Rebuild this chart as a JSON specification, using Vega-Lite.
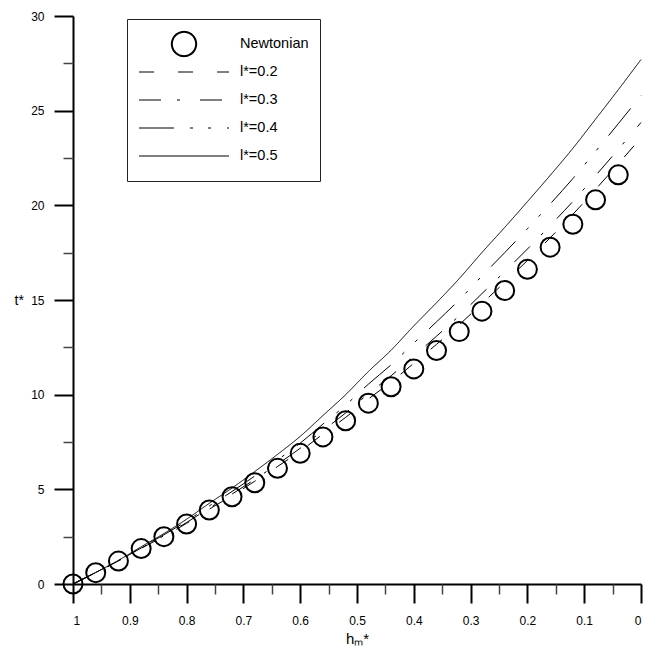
{
  "$schema": "https://vega.github.io/schema/vega-lite/v6.json",
  "width": 568,
  "height": 568,
  "autosize": {"type": "none"},
  "padding": {"left": 73, "top": 16, "right": 20, "bottom": 71},
  "config": {
    "view": {"stroke": null},
    "font": "Liberation Sans",
    "axis": {
      "grid": false,
      "labelFont": "Liberation Sans",
      "labelFontSize": 12,
      "labelColor": "black",
      "tickColor": "black",
      "domainColor": "black",
      "domainWidth": 2,
      "tickWidth": 2,
      "titleFont": "Liberation Sans",
      "titleFontWeight": "normal",
      "titleColor": "black"
    }
  },
  "datasets": {
    "lines": [
      {"s": "l*=0.5", "h": 1, "t": 0}, {"s": "l*=0.5", "h": 0.96, "t": 0.612}, {"s": "l*=0.5", "h": 0.92, "t": 1.252}, {"s": "l*=0.5", "h": 0.88, "t": 1.964}, {"s": "l*=0.5", "h": 0.84, "t": 2.663}, {"s": "l*=0.5", "h": 0.8, "t": 3.424}, {"s": "l*=0.5", "h": 0.76, "t": 4.262}, {"s": "l*=0.5", "h": 0.72, "t": 5.071}, {"s": "l*=0.5", "h": 0.68, "t": 5.939}, {"s": "l*=0.5", "h": 0.64, "t": 6.843}, {"s": "l*=0.5", "h": 0.6, "t": 7.797}, {"s": "l*=0.5", "h": 0.56, "t": 8.897}, {"s": "l*=0.5", "h": 0.52, "t": 9.999}, {"s": "l*=0.5", "h": 0.48, "t": 11.221}, {"s": "l*=0.5", "h": 0.44, "t": 12.348}, {"s": "l*=0.5", "h": 0.4, "t": 13.632}, {"s": "l*=0.5", "h": 0.36, "t": 14.858}, {"s": "l*=0.5", "h": 0.32, "t": 16.129}, {"s": "l*=0.5", "h": 0.28, "t": 17.508}, {"s": "l*=0.5", "h": 0.24, "t": 18.833}, {"s": "l*=0.5", "h": 0.2, "t": 20.193}, {"s": "l*=0.5", "h": 0.16, "t": 21.579}, {"s": "l*=0.5", "h": 0.12, "t": 23.009}, {"s": "l*=0.5", "h": 0.08, "t": 24.551}, {"s": "l*=0.5", "h": 0.04, "t": 26.105}, {"s": "l*=0.5", "h": 0, "t": 27.7},
      {"s": "l*=0.4", "h": 1, "t": 0}, {"s": "l*=0.4", "h": 0.96, "t": 0.607}, {"s": "l*=0.4", "h": 0.92, "t": 1.235}, {"s": "l*=0.4", "h": 0.88, "t": 1.926}, {"s": "l*=0.4", "h": 0.84, "t": 2.598}, {"s": "l*=0.4", "h": 0.8, "t": 3.322}, {"s": "l*=0.4", "h": 0.76, "t": 4.121}, {"s": "l*=0.4", "h": 0.72, "t": 4.887}, {"s": "l*=0.4", "h": 0.68, "t": 5.703}, {"s": "l*=0.4", "h": 0.64, "t": 6.55}, {"s": "l*=0.4", "h": 0.6, "t": 7.438}, {"s": "l*=0.4", "h": 0.56, "t": 8.446}, {"s": "l*=0.4", "h": 0.52, "t": 9.448}, {"s": "l*=0.4", "h": 0.48, "t": 10.553}, {"s": "l*=0.4", "h": 0.44, "t": 11.577}, {"s": "l*=0.4", "h": 0.4, "t": 12.723}, {"s": "l*=0.4", "h": 0.36, "t": 13.847}, {"s": "l*=0.4", "h": 0.32, "t": 15.01}, {"s": "l*=0.4", "h": 0.28, "t": 16.269}, {"s": "l*=0.4", "h": 0.24, "t": 17.5}, {"s": "l*=0.4", "h": 0.2, "t": 18.764}, {"s": "l*=0.4", "h": 0.16, "t": 20.067}, {"s": "l*=0.4", "h": 0.12, "t": 21.413}, {"s": "l*=0.4", "h": 0.08, "t": 22.847}, {"s": "l*=0.4", "h": 0.04, "t": 24.311}, {"s": "l*=0.4", "h": 0, "t": 25.796},
      {"s": "l*=0.3", "h": 1, "t": 0}, {"s": "l*=0.3", "h": 0.96, "t": 0.604}, {"s": "l*=0.3", "h": 0.92, "t": 1.223}, {"s": "l*=0.3", "h": 0.88, "t": 1.898}, {"s": "l*=0.3", "h": 0.84, "t": 2.549}, {"s": "l*=0.3", "h": 0.8, "t": 3.246}, {"s": "l*=0.3", "h": 0.76, "t": 4.016}, {"s": "l*=0.3", "h": 0.72, "t": 4.748}, {"s": "l*=0.3", "h": 0.68, "t": 5.527}, {"s": "l*=0.3", "h": 0.64, "t": 6.33}, {"s": "l*=0.3", "h": 0.6, "t": 7.169}, {"s": "l*=0.3", "h": 0.56, "t": 8.108}, {"s": "l*=0.3", "h": 0.52, "t": 9.034}, {"s": "l*=0.3", "h": 0.48, "t": 10.051}, {"s": "l*=0.3", "h": 0.44, "t": 10.998}, {"s": "l*=0.3", "h": 0.4, "t": 12.042}, {"s": "l*=0.3", "h": 0.36, "t": 13.088}, {"s": "l*=0.3", "h": 0.32, "t": 14.17}, {"s": "l*=0.3", "h": 0.28, "t": 15.339}, {"s": "l*=0.3", "h": 0.24, "t": 16.5}, {"s": "l*=0.3", "h": 0.2, "t": 17.692}, {"s": "l*=0.3", "h": 0.16, "t": 18.929}, {"s": "l*=0.3", "h": 0.12, "t": 20.203}, {"s": "l*=0.3", "h": 0.08, "t": 21.568}, {"s": "l*=0.3", "h": 0.04, "t": 22.958}, {"s": "l*=0.3", "h": 0, "t": 24.375},
      {"s": "l*=0.2", "h": 1, "t": 0}, {"s": "l*=0.2", "h": 0.96, "t": 0.602}, {"s": "l*=0.2", "h": 0.92, "t": 1.216}, {"s": "l*=0.2", "h": 0.88, "t": 1.882}, {"s": "l*=0.2", "h": 0.84, "t": 2.521}, {"s": "l*=0.2", "h": 0.8, "t": 3.203}, {"s": "l*=0.2", "h": 0.76, "t": 3.956}, {"s": "l*=0.2", "h": 0.72, "t": 4.67}, {"s": "l*=0.2", "h": 0.68, "t": 5.427}, {"s": "l*=0.2", "h": 0.64, "t": 6.205}, {"s": "l*=0.2", "h": 0.6, "t": 7.017}, {"s": "l*=0.2", "h": 0.56, "t": 7.917}, {"s": "l*=0.2", "h": 0.52, "t": 8.799}, {"s": "l*=0.2", "h": 0.48, "t": 9.768}, {"s": "l*=0.2", "h": 0.44, "t": 10.671}, {"s": "l*=0.2", "h": 0.4, "t": 11.655}, {"s": "l*=0.2", "h": 0.36, "t": 12.659}, {"s": "l*=0.2", "h": 0.32, "t": 13.694}, {"s": "l*=0.2", "h": 0.28, "t": 14.813}, {"s": "l*=0.2", "h": 0.24, "t": 15.934}, {"s": "l*=0.2", "h": 0.2, "t": 17.085}, {"s": "l*=0.2", "h": 0.16, "t": 18.283}, {"s": "l*=0.2", "h": 0.12, "t": 19.521}, {"s": "l*=0.2", "h": 0.08, "t": 20.844}, {"s": "l*=0.2", "h": 0.04, "t": 22.193}, {"s": "l*=0.2", "h": 0, "t": 23.567}
    ],
    "newt": [
      {"s": "Newtonian", "h": 1, "t": 0}, {"s": "Newtonian", "h": 0.96, "t": 0.6}, {"s": "Newtonian", "h": 0.92, "t": 1.21}, {"s": "Newtonian", "h": 0.88, "t": 1.87}, {"s": "Newtonian", "h": 0.84, "t": 2.5}, {"s": "Newtonian", "h": 0.8, "t": 3.17}, {"s": "Newtonian", "h": 0.76, "t": 3.91}, {"s": "Newtonian", "h": 0.72, "t": 4.61}, {"s": "Newtonian", "h": 0.68, "t": 5.35}, {"s": "Newtonian", "h": 0.64, "t": 6.11}, {"s": "Newtonian", "h": 0.6, "t": 6.9}, {"s": "Newtonian", "h": 0.56, "t": 7.77}, {"s": "Newtonian", "h": 0.52, "t": 8.62}, {"s": "Newtonian", "h": 0.48, "t": 9.55}, {"s": "Newtonian", "h": 0.44, "t": 10.42}, {"s": "Newtonian", "h": 0.4, "t": 11.36}, {"s": "Newtonian", "h": 0.36, "t": 12.33}, {"s": "Newtonian", "h": 0.32, "t": 13.33}, {"s": "Newtonian", "h": 0.28, "t": 14.41}, {"s": "Newtonian", "h": 0.24, "t": 15.5}, {"s": "Newtonian", "h": 0.2, "t": 16.62}, {"s": "Newtonian", "h": 0.16, "t": 17.79}, {"s": "Newtonian", "h": 0.12, "t": 19.0}, {"s": "Newtonian", "h": 0.08, "t": 20.29}, {"s": "Newtonian", "h": 0.04, "t": 21.61}
    ]
  },
  "layer": [
    {
      "data": {"name": "lines"},
      "mark": {"type": "line", "color": "black", "interpolate": "monotone"},
      "encoding": {
        "x": {
          "field": "h", "type": "quantitative",
          "scale": {"domain": [0, 1], "reverse": true, "nice": false, "zero": false},
          "axis": {
            "orient": "bottom",
            "values": [0, 0.1, 0.2, 0.3, 0.4, 0.5, 0.6, 0.7, 0.8, 0.9, 1],
            "labelExpr": "datum.value == 0 ? '0' : datum.value == 1 ? '1' : format(datum.value, '.1f')",
            "tickSize": 19,
            "labelPadding": 12,
            "title": "hₘ*",
            "titleFontSize": 15,
            "titlePadding": 5
          }
        },
        "y": {
          "field": "t", "type": "quantitative",
          "scale": {"domain": [0, 30], "nice": false, "zero": false},
          "axis": {
            "orient": "left",
            "values": [0, 5, 10, 15, 20, 25, 30],
            "format": "d",
            "tickSize": 19,
            "labelPadding": 10,
            "title": "t*",
            "titleAngle": 0,
            "titleFontSize": 14,
            "titleAlign": "left",
            "titleBaseline": "middle",
            "titleX": -59,
            "titleY": 284
          }
        },
        "strokeDash": {
          "field": "s", "type": "nominal",
          "scale": {
            "domain": ["Newtonian", "l*=0.2", "l*=0.3", "l*=0.4", "l*=0.5"],
            "range": [[1, 0], [15, 24], [22, 16, 3, 20], [35, 16, 3, 15, 3, 16], [1, 0]]
          },
          "legend": {
            "title": null, "orient": "none", "legendX": 54, "legendY": 3,
            "strokeColor": "#222", "padding": 11, "symbolSize": 8100, "clipHeight": 28,
            "rowPadding": 0, "labelOffset": 10, "labelFontSize": 14.5, "labelFont": "Liberation Sans",
            "labelColor": "black", "symbolFillColor": "transparent", "symbolStrokeColor": "black"
          }
        },
        "strokeWidth": {
          "field": "s", "type": "nominal",
          "scale": {
            "type": "ordinal",
            "domain": ["Newtonian", "l*=0.2", "l*=0.3", "l*=0.4", "l*=0.5"],
            "range": [2, 1, 1, 1, 1]
          },
          "legend": {
            "title": null, "orient": "none", "legendX": 54, "legendY": 3,
            "strokeColor": "#222", "padding": 11, "symbolSize": 8100, "clipHeight": 28,
            "rowPadding": 0, "labelOffset": 10, "labelFontSize": 14.5, "labelFont": "Liberation Sans",
            "labelColor": "black", "symbolFillColor": "transparent", "symbolStrokeColor": "black"
          }
        }
      }
    },
    {
      "data": {"name": "newt"},
      "mark": {"type": "point", "filled": false, "color": "black", "opacity": 1, "size": 4953},
      "encoding": {
        "x": {
          "field": "h", "type": "quantitative",
          "scale": {"domain": [0, 1], "reverse": true, "nice": false, "zero": false},
          "axis": {
            "orient": "bottom",
            "values": [0.05, 0.15, 0.25, 0.35, 0.45, 0.55, 0.65, 0.75, 0.85, 0.95],
            "labels": false, "domain": false, "title": null,
            "tickSize": 10, "tickWidth": 1.5, "tickColor": "#444"
          }
        },
        "y": {
          "field": "t", "type": "quantitative",
          "scale": {"domain": [0, 30], "nice": false, "zero": false},
          "axis": {
            "orient": "left",
            "values": [2.5, 7.5, 12.5, 17.5, 22.5, 27.5],
            "labels": false, "domain": false, "title": null,
            "tickSize": 10, "tickWidth": 1.5, "tickColor": "#444"
          }
        },
        "shape": {
          "field": "s", "type": "nominal",
          "scale": {
            "domain": ["Newtonian", "l*=0.2", "l*=0.3", "l*=0.4", "l*=0.5"],
            "range": ["M0.27,0A0.27,0.27,0,1,1,-0.27,0A0.27,0.27,0,1,1,0.27,0Z", "M-1,0H1", "M-1,0H1", "M-1,0H1", "M-1,0H1"]
          },
          "legend": {
            "title": null, "orient": "none", "legendX": 54, "legendY": 3,
            "strokeColor": "#222", "padding": 11, "symbolSize": 8100, "clipHeight": 28,
            "rowPadding": 0, "labelOffset": 10, "labelFontSize": 14.5, "labelFont": "Liberation Sans",
            "labelColor": "black", "symbolFillColor": "transparent", "symbolStrokeColor": "black"
          }
        },
        "strokeWidth": {
          "field": "s", "type": "nominal",
          "scale": {
            "type": "ordinal",
            "domain": ["Newtonian", "l*=0.2", "l*=0.3", "l*=0.4", "l*=0.5"],
            "range": [2, 1, 1, 1, 1]
          },
          "legend": {
            "title": null, "orient": "none", "legendX": 54, "legendY": 3,
            "strokeColor": "#222", "padding": 11, "symbolSize": 8100, "clipHeight": 28,
            "rowPadding": 0, "labelOffset": 10, "labelFontSize": 14.5, "labelFont": "Liberation Sans",
            "labelColor": "black", "symbolFillColor": "transparent", "symbolStrokeColor": "black"
          }
        }
      }
    }
  ],
  "resolve": {"axis": {"x": "independent", "y": "independent"}}
}
